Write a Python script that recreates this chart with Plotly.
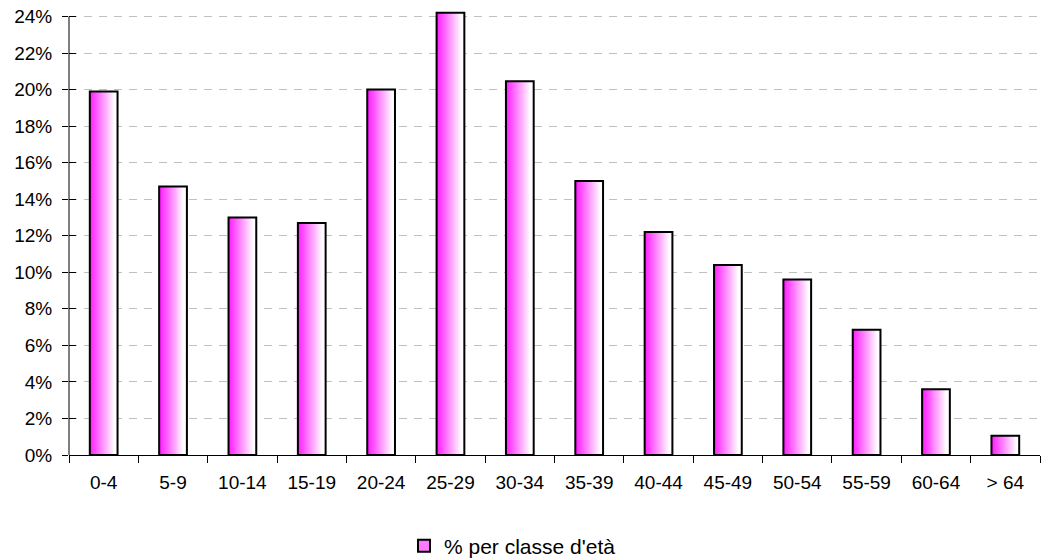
import plotly.graph_objects as go

# Age classes and share of population per class (%)
age_classes = ["0-4", "5-9", "10-14", "15-19", "20-24", "25-29", "30-34",
               "35-39", "40-44", "45-49", "50-54", "55-59", "60-64", "> 64"]
share_pct = [19.9, 14.7, 13.0, 12.7, 20.0, 24.2, 20.45,
             15.0, 12.2, 10.4, 9.6, 6.85, 3.6, 1.05]
y_tick_values = list(range(0, 25, 2))
y_tick_labels = [f"{v}%" for v in y_tick_values]
series_name = "% per classe d'età"

BAR_WIDTH = 0.4
N_STRIPS = 28
FONT = "Liberation Sans, Arial, sans-serif"
Y_TOP = 24.3          # a little headroom so the tallest bar is not clipped
PX_PER_UNIT = 439 / 24


def ramp_color(u):
    # saturated magenta on the left fading to white on the right
    m = max(0.0, 1 - u * 1.1)
    g = int(round(255 - (255 - 20) * m))
    return f"rgb(255,{g},255)"


fig = go.Figure()

# horizontal gradient fill built from narrow side-by-side strips
strip_w = BAR_WIDTH / N_STRIPS
for k in range(N_STRIPS):
    fig.add_trace(go.Bar(
        x=age_classes, y=share_pct,
        width=strip_w * 1.1, offset=-BAR_WIDTH / 2 + k * strip_w,
        marker=dict(color=ramp_color((k + 0.5) / N_STRIPS), line=dict(width=0)),
        showlegend=False, hoverinfo="skip",
    ))

# black outline on top of the gradient
fig.add_trace(go.Bar(
    x=age_classes, y=share_pct,
    width=BAR_WIDTH, offset=-BAR_WIDTH / 2,
    marker=dict(color="rgba(0,0,0,0)", line=dict(color="black", width=2)),
    showlegend=False, name=series_name,
))

# legend entry
fig.add_trace(go.Bar(
    x=[None], y=[None], name=series_name,
    marker=dict(color="rgb(255,120,255)", line=dict(color="black", width=2)),
    showlegend=True,
))

# invisible trace on a twin axis to give the y ticks their inner half
fig.add_trace(go.Scatter(x=[age_classes[0]], y=[0], yaxis="y2",
                         mode="markers", marker=dict(opacity=0),
                         showlegend=False, hoverinfo="skip"))

top_margin = 16 - (Y_TOP - 24) * PX_PER_UNIT

fig.update_layout(
    width=1048, height=559,
    margin=dict(l=69, r=8, t=top_margin, b=104, autoexpand=False),
    paper_bgcolor="white", plot_bgcolor="white",
    barmode="overlay",
    font=dict(family=FONT, size=19, color="black"),
    xaxis=dict(
        type="category", categoryorder="array", categoryarray=age_classes,
        range=[-0.5, len(age_classes) - 0.5],
        showline=True, linecolor="black", linewidth=1,
        ticks="outside", tickson="boundaries", ticklen=7,
        tickcolor="black", tickwidth=1,
        showgrid=False, zeroline=False,
        tickfont=dict(size=19), ticklabelstandoff=10,
    ),
    yaxis=dict(
        range=[0, Y_TOP], tickvals=y_tick_values, ticktext=y_tick_labels,
        showline=False,
        ticks="outside", ticklen=6, tickcolor="black", tickwidth=1,
        showgrid=True, gridcolor="#c0c0c0", griddash="8px,7px", gridwidth=1,
        zeroline=False, tickfont=dict(size=19), ticklabelstandoff=6,
    ),
    yaxis2=dict(
        overlaying="y", matches="y", side="left",
        tickvals=y_tick_values, showticklabels=False,
        ticks="inside", ticklen=7, tickcolor="black", tickwidth=1,
        showgrid=False, showline=False, zeroline=False,
    ),
    legend=dict(
        orientation="h", x=0.345, xanchor="left", y=-0.205, yanchor="middle",
        font=dict(size=21), itemwidth=30,
    ),
    # value axis line running from 0% up to the top tick
    shapes=[dict(type="line", xref="paper", yref="y", x0=0, x1=0,
                 y0=0, y1=24, line=dict(color="black", width=1))],
)

fig.write_html("out.html")
